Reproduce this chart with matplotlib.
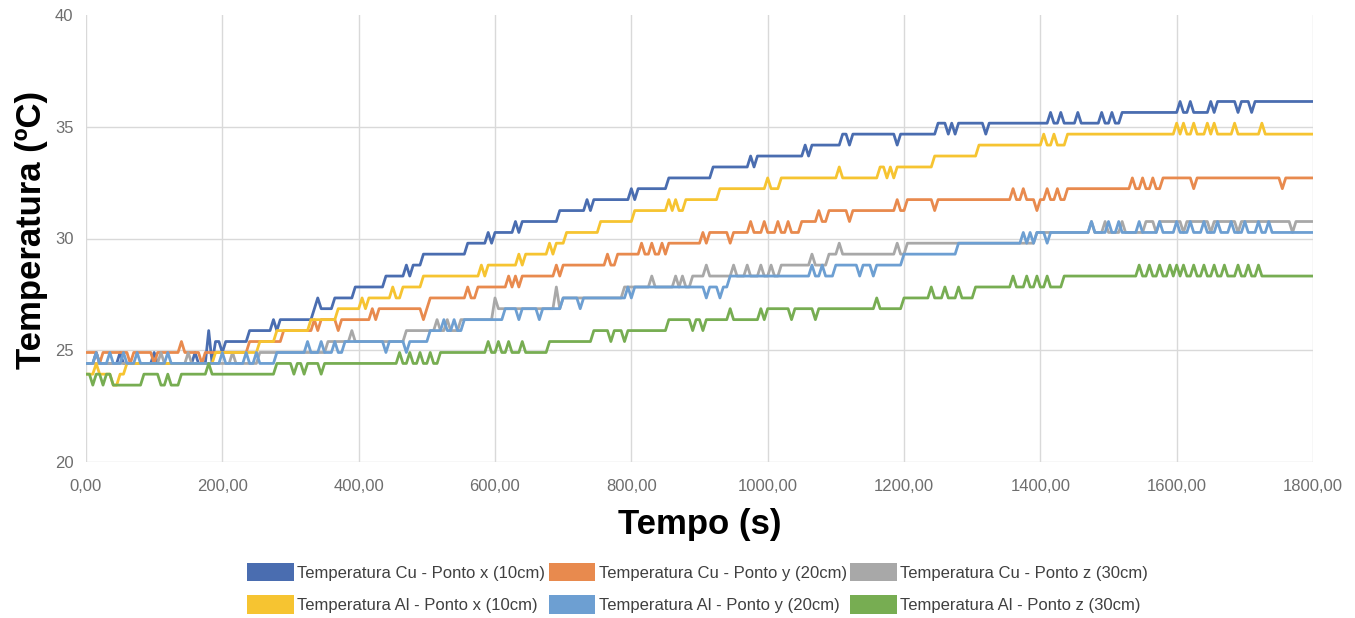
import numpy as np
import matplotlib
matplotlib.use("Agg")
from matplotlib import pyplot as plt
from matplotlib.patches import Patch

# step levels (time s, temperature C), plus single-sample spikes
cu_x_step_t = [0, 188, 240, 285, 333, 365, 392, 436, 470, 492, 558, 588, 630, 693, 735, 798, 854, 920, 975, 1055, 1106, 1247, 1520, 1657]
cu_x_step_v = [24.41, 25.39, 25.88, 26.37, 26.86, 27.34, 27.83, 28.32, 28.81, 29.30, 29.79, 30.27, 30.76, 31.25, 31.74, 32.23, 32.71, 33.20, 33.69, 34.18, 34.67, 35.16, 35.64, 36.13]
cu_x_spike_t = [15, 50, 100, 160, 180, 200, 275, 340, 475, 595, 635, 740, 803, 980, 1060, 1120, 1189, 1263, 1275, 1320, 1417, 1432, 1454, 1492, 1507, 1607, 1620, 1649, 1688, 1712]
cu_x_spike_v = [24.90, 24.90, 24.90, 24.90, 25.88, 24.90, 26.37, 27.34, 28.32, 29.79, 30.27, 31.25, 31.74, 33.20, 33.69, 34.18, 34.18, 34.67, 34.67, 34.67, 35.64, 35.64, 35.64, 35.64, 35.64, 36.13, 36.13, 36.13, 35.64, 35.64]

cu_y_step_t = [0, 236, 288, 345, 428, 505, 573, 640, 700, 776, 851, 915, 1047, 1087, 1204, 1436, 1580]
cu_y_step_v = [24.90, 25.39, 25.88, 26.37, 26.86, 27.34, 27.83, 28.32, 28.81, 29.30, 29.79, 30.27, 30.76, 31.25, 31.74, 32.23, 32.71]
cu_y_spike_t = [20, 65, 100, 140, 170, 335, 370, 420, 495, 560, 620, 630, 690, 765, 815, 830, 845, 905, 947, 974, 993, 1015, 1030, 1077, 1119, 1190, 1243, 1360, 1375, 1395, 1410, 1425, 1535, 1550, 1565, 1624, 1754]
cu_y_spike_v = [24.41, 24.41, 24.41, 25.39, 24.41, 26.37, 25.88, 26.86, 26.37, 27.83, 28.32, 28.32, 28.81, 29.30, 29.79, 29.79, 29.79, 30.27, 29.79, 30.76, 30.76, 30.76, 30.76, 31.25, 30.76, 31.74, 31.25, 32.23, 32.23, 31.25, 32.23, 32.23, 32.71, 32.71, 32.71, 32.23, 32.23]

cu_z_step_t = [0, 255, 355, 470, 550, 605, 700, 790, 886, 1018, 1087, 1201, 1395, 1551]
cu_z_step_v = [24.41, 24.90, 25.39, 25.88, 26.37, 26.86, 27.34, 27.83, 28.32, 28.81, 29.30, 29.79, 30.27, 30.76]
cu_z_spike_t = [110, 150, 215, 390, 515, 530, 600, 690, 832, 865, 875, 909, 950, 970, 990, 1003, 1067, 1106, 1191, 1477, 1495, 1520, 1570, 1610, 1650, 1690, 1771]
cu_z_spike_v = [24.90, 24.90, 24.90, 25.88, 26.37, 26.37, 27.34, 27.83, 28.32, 28.32, 28.32, 28.81, 28.81, 28.81, 28.81, 28.81, 29.30, 29.79, 29.79, 30.76, 30.76, 30.76, 30.27, 30.27, 30.27, 30.27, 30.27]

al_x_step_t = [0, 60, 190, 251, 280, 328, 368, 414, 461, 494, 590, 645, 690, 705, 751, 801, 876, 926, 1018, 1165, 1243, 1307, 1440]
al_x_step_v = [23.93, 24.41, 24.90, 25.39, 25.88, 26.37, 26.86, 27.34, 27.83, 28.32, 28.81, 29.30, 29.79, 30.27, 30.76, 31.25, 31.74, 32.23, 32.71, 33.20, 33.69, 34.18, 34.67]
al_x_spike_t = [15, 40, 45, 405, 452, 580, 635, 680, 855, 865, 1000, 1106, 1175, 1187, 1405, 1420, 1600, 1612, 1627, 1644, 1656, 1683, 1727]
al_x_spike_v = [24.41, 23.44, 23.44, 27.34, 27.83, 28.81, 29.30, 29.79, 31.74, 31.74, 32.71, 33.20, 32.71, 32.71, 34.67, 34.67, 35.16, 35.16, 35.16, 35.16, 35.16, 35.16, 35.16]

al_y_step_t = [0, 280, 380, 505, 551, 612, 700, 805, 944, 1096, 1200, 1279, 1395]
al_y_step_v = [24.41, 24.90, 25.39, 25.88, 26.37, 26.86, 27.34, 27.83, 28.32, 28.81, 29.30, 29.79, 30.27]
al_y_spike_t = [15, 35, 55, 75, 120, 200, 235, 250, 325, 345, 365, 438, 471, 525, 540, 634, 666, 725, 795, 912, 930, 1065, 1080, 1134, 1155, 1375, 1385, 1410, 1477, 1500, 1515, 1545, 1575, 1600, 1618, 1640, 1660, 1680, 1700, 1720, 1735]
al_y_spike_v = [24.90, 24.90, 24.90, 24.90, 24.90, 24.90, 24.90, 24.90, 25.39, 25.39, 25.39, 24.90, 24.90, 26.37, 26.37, 26.37, 26.37, 26.86, 27.83, 27.34, 27.34, 28.81, 28.81, 28.32, 28.32, 30.27, 30.27, 29.79, 30.76, 30.76, 30.76, 30.76, 30.76, 30.76, 30.76, 30.76, 30.76, 30.76, 30.76, 30.76, 30.76]

al_z_step_t = [0, 40, 84, 110, 137, 277, 519, 678, 745, 854, 999, 1197, 1304, 1432]
al_z_step_v = [23.93, 23.44, 23.93, 23.44, 23.93, 24.41, 24.90, 25.39, 25.88, 26.37, 26.86, 27.34, 27.83, 28.32]
al_z_spike_t = [10, 25, 122, 182, 304, 320, 345, 460, 475, 490, 505, 590, 605, 620, 640, 660, 770, 790, 891, 905, 946, 990, 1036, 1070, 1162, 1240, 1260, 1280, 1360, 1378, 1395, 1412, 1546, 1560, 1575, 1590, 1600, 1612, 1625, 1640, 1655, 1668, 1690, 1705, 1720]
al_z_spike_v = [23.44, 23.44, 23.93, 24.41, 23.93, 23.93, 23.93, 24.90, 24.90, 24.90, 24.90, 25.39, 25.39, 25.39, 25.39, 24.90, 25.39, 25.39, 25.88, 25.88, 26.86, 26.86, 26.37, 26.37, 27.34, 27.83, 27.83, 27.83, 28.32, 28.32, 28.32, 28.32, 28.81, 28.81, 28.81, 28.81, 28.81, 28.81, 28.81, 28.81, 28.81, 28.81, 28.81, 28.81, 28.81]

labels = ["Temperatura Cu - Ponto x (10cm)", "Temperatura Cu - Ponto y (20cm)", "Temperatura Cu - Ponto z (30cm)",
          "Temperatura Al - Ponto x (10cm)", "Temperatura Al - Ponto y (20cm)", "Temperatura Al - Ponto z (30cm)"]
colors = ["#4A6DB0", "#E88A4E", "#A8A8A8", "#F6C431", "#6D9FD2", "#77AD52"]

SAMPLE = 5  # seconds between logged readings
t = np.arange(0, 1800 + SAMPLE, SAMPLE)


def build(step_t, step_v, spike_t, spike_v):
    v = np.array(step_v)[np.searchsorted(step_t, t, side="right") - 1]
    for ts, vs in zip(spike_t, spike_v):
        v[int(round(ts / SAMPLE))] = vs
    return v


series = [
    build(cu_x_step_t, cu_x_step_v, cu_x_spike_t, cu_x_spike_v),
    build(cu_y_step_t, cu_y_step_v, cu_y_spike_t, cu_y_spike_v),
    build(cu_z_step_t, cu_z_step_v, cu_z_spike_t, cu_z_spike_v),
    build(al_x_step_t, al_x_step_v, al_x_spike_t, al_x_spike_v),
    build(al_y_step_t, al_y_step_v, al_y_spike_t, al_y_spike_v),
    build(al_z_step_t, al_z_step_v, al_z_spike_t, al_z_spike_v),
]

plt.rcParams["font.family"] = ["Liberation Sans", "DejaVu Sans"]

fig = plt.figure(figsize=(13.55, 6.18), dpi=100)
ax = fig.add_axes([86 / 1355, 1 - 462 / 618, (1313 - 86) / 1355, (462 - 15) / 618])

for y, c in zip(series, colors):
    ax.plot(t, y, color=c, lw=2.0, solid_joinstyle="round")

ax.set_xlim(0, 1800)
ax.set_ylim(20, 40)
ax.set_xticks(np.arange(0, 1801, 200))
ax.set_xticklabels(["%d,00" % v for v in range(0, 1801, 200)])
ax.set_yticks([20, 25, 30, 35, 40])
ax.grid(True, color="#d9d9d9", lw=1.0)
ax.set_axisbelow(True)
ax.get_ygridlines()[-1].set_visible(False)
for s in ax.spines.values():
    s.set_visible(False)
ax.tick_params(length=0, colors="#6e6e6e", labelsize=12)
ax.tick_params(axis="x", pad=12)
ax.tick_params(axis="y", pad=9)

ax.set_xlabel("Tempo (s)", fontsize=25, fontweight="bold")
ax.xaxis.set_label_coords(0.5, -0.103)
ax.set_ylabel("Temperatura (ºC)", fontsize=25, fontweight="bold")
ax.yaxis.set_label_coords(-0.031, 0.52)

order = [0, 3, 1, 4, 2, 5]
handles = [Patch(facecolor=colors[i], edgecolor="none") for i in order]
fig.legend(handles, [labels[i] for i in order], ncol=3, loc="center",
           bbox_to_anchor=(0.515, 0.048), frameon=False,
           prop={"size": 12},
           handlelength=2.8, handleheight=1.3, handletextpad=0.2,
           columnspacing=0.2, labelspacing=0.85, labelcolor="#404040")

fig.savefig("out.png", dpi=100)
